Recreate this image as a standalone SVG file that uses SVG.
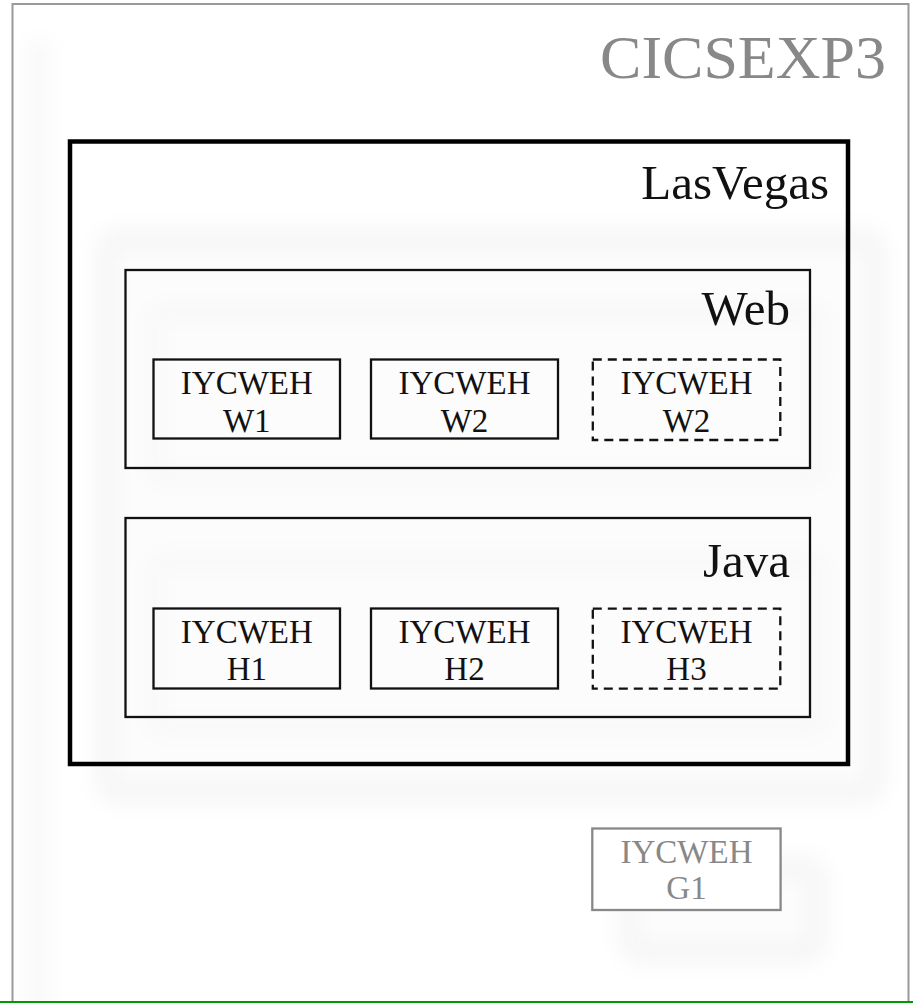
<svg xmlns="http://www.w3.org/2000/svg" width="913" height="1003" viewBox="0 0 913 1003">
  <style>
    text { font-family: "Liberation Serif", "Times New Roman", serif; }
    .lbl { font-size: 33px; fill: #111; text-anchor: middle; }
    .lblg { font-size: 33px; fill: #888; text-anchor: middle; }
    .grp { font-size: 49px; fill: #111; text-anchor: end; }
    .box { fill: none; stroke: #111; stroke-width: 2.3; }
    .dash { fill: none; stroke: #111; stroke-width: 2.3; stroke-dasharray: 9 6; }
    .sh { fill: #000; fill-opacity: 0.01; stroke: #000; stroke-opacity: 0.03; stroke-width: 22; filter: url(#blur); }
    .shf { fill: none; stroke: #000; stroke-opacity: 0.015; stroke-width: 18; filter: url(#blur); }
  </style>
  <defs>
    <filter id="blur" x="-30%" y="-30%" width="160%" height="160%">
      <feGaussianBlur stdDeviation="10"/>
    </filter>
    <filter id="blurv" x="-200%" y="-10%" width="500%" height="120%">
      <feGaussianBlur stdDeviation="10"/>
    </filter>
  </defs>
  <rect x="0" y="0" width="913" height="1003" fill="#fff"/>

  <!-- soft shadows -->
  <g id="shadows">
    <rect x="26" y="40" width="24" height="1000" fill="#000" fill-opacity="0.025" filter="url(#blurv)"/>
    <rect class="sh" x="105" y="238" width="772" height="556" rx="14"/>
    <rect class="shf" x="155" y="312" width="665" height="165" rx="10"/>
    <rect class="shf" x="155" y="562" width="665" height="165" rx="10"/>
    <rect class="sh" x="628" y="866" width="190" height="88" rx="14"/>
  </g>

  <g id="CICSEXP3">
    <rect x="12.5" y="4" width="896" height="1010" fill="none" stroke="#999" stroke-width="2"/>
    <text x="886" y="78" font-size="62" fill="#888" text-anchor="end">CICSEXP3</text>
  </g>

  <g id="LasVegas">
    <rect x="70" y="141.5" width="778" height="622.5" fill="none" stroke="#000" stroke-width="4.5"/>
    <text class="grp" x="829" y="199">LasVegas</text>
  </g>

  <g id="Web">
    <rect class="box" x="125.5" y="270" width="684.5" height="198"/>
    <text class="grp" x="790" y="325">Web</text>
  </g>

  <g id="Java">
    <rect class="box" x="125.5" y="518" width="684.5" height="199"/>
    <text class="grp" x="790" y="577">Java</text>
  </g>

  <g id="W1">
    <rect class="box" x="153.5" y="359.5" width="186.5" height="79"/>
    <text class="lbl" x="246.8" y="393.5">IYCWEH</text>
    <text class="lbl" x="246.8" y="431.5">W1</text>
  </g>
  <g id="W2">
    <rect class="box" x="371" y="359.5" width="187" height="79"/>
    <text class="lbl" x="464.5" y="393.5">IYCWEH</text>
    <text class="lbl" x="464.5" y="431.5">W2</text>
  </g>
  <g id="W2b">
    <rect class="dash" x="592.8" y="359.5" width="187.5" height="80.5"/>
    <text class="lbl" x="686.5" y="393.5">IYCWEH</text>
    <text class="lbl" x="686.5" y="431.5">W2</text>
  </g>

  <g id="H1">
    <rect class="box" x="153.5" y="608.5" width="186.5" height="80"/>
    <text class="lbl" x="246.8" y="642.5">IYCWEH</text>
    <text class="lbl" x="246.8" y="679.5">H1</text>
  </g>
  <g id="H2">
    <rect class="box" x="371" y="608.5" width="187" height="80"/>
    <text class="lbl" x="464.5" y="642.5">IYCWEH</text>
    <text class="lbl" x="464.5" y="679.5">H2</text>
  </g>
  <g id="H3">
    <rect class="dash" x="592.8" y="608.7" width="187.5" height="80"/>
    <text class="lbl" x="686.5" y="642.5">IYCWEH</text>
    <text class="lbl" x="686.5" y="679.5">H3</text>
  </g>

  <g id="G1">
    <rect x="592.3" y="828.5" width="188.3" height="81.5" fill="#fff" stroke="#888" stroke-width="2.3"/>
    <text class="lblg" x="686.5" y="862.7">IYCWEH</text>
    <text class="lblg" x="686.5" y="898.5">G1</text>
  </g>

  <g id="connectors"></g>

  <line x1="0" y1="1002" x2="913" y2="1002" stroke="#009a00" stroke-width="2.2"/>
</svg>
